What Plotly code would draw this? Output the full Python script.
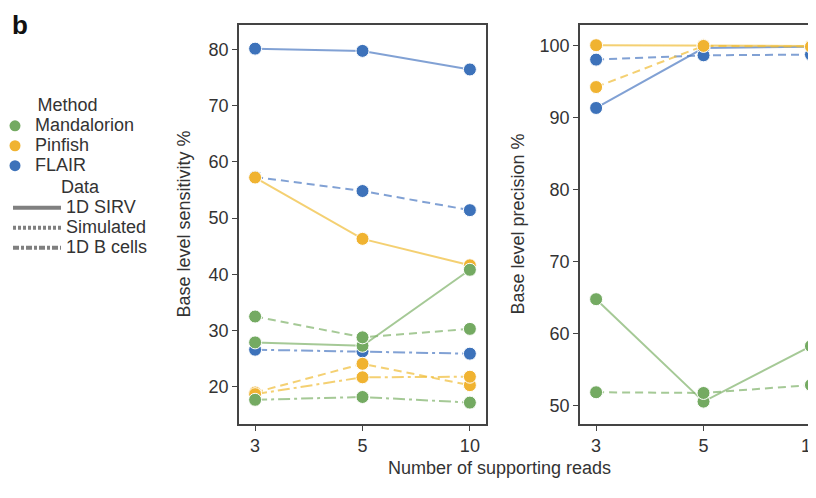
import plotly.graph_objects as go

# ---------------- data ----------------
reads = ["3", "5", "10"]

# Base level sensitivity %
sens_flair_sirv = [80.1, 79.7, 76.4]
sens_flair_sim = [57.3, 54.8, 51.4]
sens_flair_bcell = [26.6, 26.3, 25.9]
sens_pinfish_sirv = [57.2, 46.3, 41.6]
sens_pinfish_sim = [19.0, 24.1, 20.3]
sens_pinfish_bcell = [18.7, 21.7, 21.8]
sens_mand_sirv = [27.9, 27.3, 40.8]
sens_mand_sim = [32.5, 28.8, 30.3]
sens_mand_bcell = [17.7, 18.2, 17.2]

# Base level precision %
prec_flair_sirv = [91.3, 99.6, 99.8]
prec_flair_sim = [98.0, 98.6, 98.7]
prec_pinfish_sirv = [100.0, 100.0, 99.9]
prec_pinfish_sim = [94.2, 99.9, 99.8]
prec_mand_sirv = [64.8, 50.6, 58.3]
prec_mand_sim = [51.9, 51.8, 52.9]

methods = ["Mandalorion", "Pinfish", "FLAIR"]
datasets = ["1D SIRV", "Simulated", "1D B cells"]

# ---------------- style ----------------
marker_col = {"FLAIR": "#3d72ba", "Pinfish": "#f0b331", "Mandalorion": "#74aa62"}
line_col = {"FLAIR": "rgba(80,125,195,0.72)", "Pinfish": "rgba(240,190,60,0.72)",
            "Mandalorion": "rgba(130,180,110,0.72)"}
dash_style = {"1D SIRV": "solid", "Simulated": "8px,5px", "1D B cells": "12px,4px,3px,4px"}
legend_dash = {"1D SIRV": "solid", "Simulated": "3px,2px", "1D B cells": "6px,2px,3px,2px"}

FONT = "Liberation Sans, Arial, Helvetica, sans-serif"
FS = 18

fig = go.Figure()

def add(xa, ya, method, dataset, ys):
    fig.add_trace(go.Scatter(
        x=reads, y=ys, xaxis=xa, yaxis=ya, mode="lines+markers",
        line=dict(color=line_col[method], width=2, dash=dash_style[dataset]),
        marker=dict(color=marker_col[method], size=13, line=dict(color="white", width=1)),
        showlegend=False, hoverinfo="skip"))

# draw order: blue, yellow, green
add("x", "y", "FLAIR", "1D SIRV", sens_flair_sirv)
add("x", "y", "FLAIR", "Simulated", sens_flair_sim)
add("x", "y", "FLAIR", "1D B cells", sens_flair_bcell)
add("x", "y", "Pinfish", "1D SIRV", sens_pinfish_sirv)
add("x", "y", "Pinfish", "Simulated", sens_pinfish_sim)
add("x", "y", "Pinfish", "1D B cells", sens_pinfish_bcell)
add("x", "y", "Mandalorion", "1D SIRV", sens_mand_sirv)
add("x", "y", "Mandalorion", "Simulated", sens_mand_sim)
add("x", "y", "Mandalorion", "1D B cells", sens_mand_bcell)

add("x2", "y2", "FLAIR", "1D SIRV", prec_flair_sirv)
add("x2", "y2", "FLAIR", "Simulated", prec_flair_sim)
add("x2", "y2", "Pinfish", "1D SIRV", prec_pinfish_sirv)
add("x2", "y2", "Pinfish", "Simulated", prec_pinfish_sim)
add("x2", "y2", "Mandalorion", "1D SIRV", prec_mand_sirv)
add("x2", "y2", "Mandalorion", "Simulated", prec_mand_sim)

def big(t):
    return "<span style='font-size:%dpx'>%s</span>" % (FS, t)

# legend entries
for m in methods:
    fig.add_trace(go.Scatter(x=[None], y=[None], mode="markers", name=big(m),
                             marker=dict(color=marker_col[m], size=11),
                             legend="legend", showlegend=True))
for d in datasets:
    fig.add_trace(go.Scatter(x=[None], y=[None], mode="lines", name=big(d),
                             line=dict(color="#808080", width=4, dash=legend_dash[d]),
                             legend="legend2", showlegend=True))

# page has an 8px body margin: figure pixel = page pixel - 8
W, H = 808, 490
T, B = 17, 74
ph = H - T - B

axis_common = dict(showline=True, linecolor="#444", linewidth=1.5, ticks="outside",
                   ticklen=5, tickcolor="#444", tickwidth=1.2, showgrid=False, zeroline=False,
                   tickfont=dict(family=FONT, size=FS, color="#333"))

fig.update_layout(
    width=W, height=H, margin=dict(l=0, r=0, t=T, b=B, autoexpand=False),
    paper_bgcolor="white", plot_bgcolor="white",
    font=dict(family=FONT, size=FS, color="#333"),
    xaxis=dict(domain=[231 / W, 478 / W], type="category", range=[-0.15, 2.15],
               mirror=True, anchor="y", **axis_common),
    yaxis=dict(domain=[0, 1], range=[13.4, 84.3], tickvals=[20, 30, 40, 50, 60, 70, 80],
               mirror=True, anchor="x", **axis_common),
    xaxis2=dict(domain=[572 / W, 1.0], type="category", range=[-0.15, 2.047],
                mirror=True, anchor="y2", **axis_common),
    yaxis2=dict(domain=[0, 1], range=[47.5, 102.8], tickvals=[50, 60, 70, 80, 90, 100],
                mirror=False, anchor="x2", **axis_common),
    legend=dict(x=-13 / W, y=1 - (86 - T) / ph, xanchor="left", yanchor="top",
                title=dict(text=big("Method"), side="top center",
                           font=dict(family=FONT, size=13, color="#333")),
                font=dict(family=FONT, size=13, color="#333"), itemwidth=30,
                tracegroupgap=0, bgcolor="rgba(0,0,0,0)"),
    legend2=dict(x=0, y=1 - (168 - T) / ph, xanchor="left", yanchor="top",
                 title=dict(text=big("Data"), side="top center",
                            font=dict(family=FONT, size=13, color="#333")),
                 font=dict(family=FONT, size=13, color="#333"), itemwidth=48,
                 tracegroupgap=0, bgcolor="rgba(0,0,0,0)"),
    annotations=[
        dict(text="<b>b</b>", xref="paper", yref="paper", x=2 / W, y=1 + T / ph,
             xanchor="left", yanchor="top", showarrow=False,
             font=dict(family=FONT, size=26, color="#111")),
        dict(text="Base level sensitivity %", xref="paper", yref="paper", x=175 / W, y=0.5,
             textangle=-90, showarrow=False, xanchor="center", yanchor="middle",
             font=dict(family=FONT, size=FS, color="#333")),
        dict(text="Base level precision %", xref="paper", yref="paper", x=509 / W, y=0.5,
             textangle=-90, showarrow=False, xanchor="center", yanchor="middle",
             font=dict(family=FONT, size=FS, color="#333")),
        dict(text="Number of supporting reads", xref="paper", yref="paper", x=491 / W,
             y=-(460 - (H - B)) / ph, showarrow=False, xanchor="center", yanchor="middle",
             font=dict(family=FONT, size=FS, color="#333")),
    ],
)

fig.write_html("out.html")
